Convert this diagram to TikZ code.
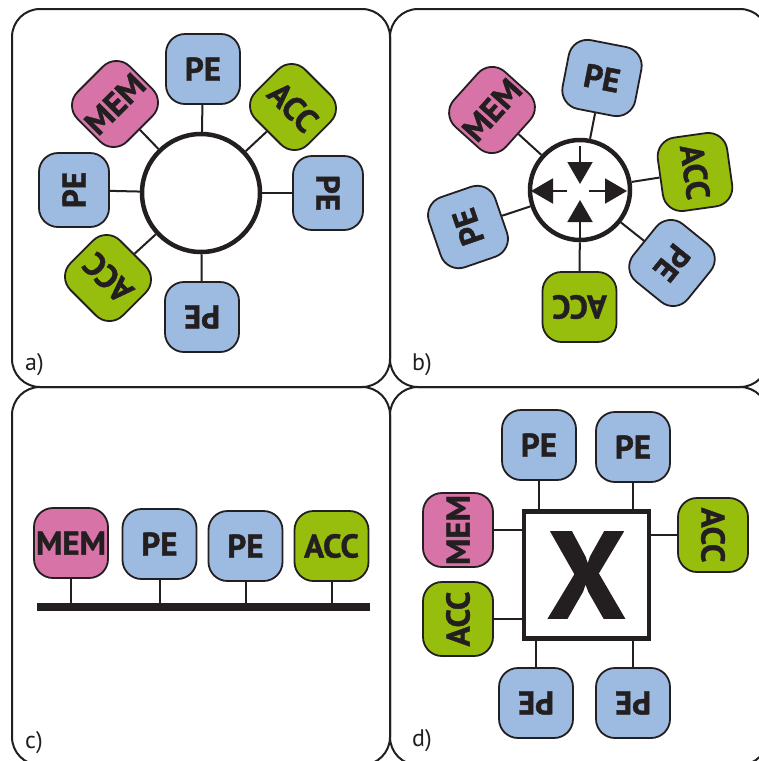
\documentclass[tikz,border=0pt]{standalone}
\usepackage{fontspec}
\setmainfont{PT Sans}[BoldFeatures={FakeBold=1.2}]
\usetikzlibrary{arrows.meta}
\definecolor{ink}{HTML}{231F20}
\definecolor{pecol}{HTML}{9DBBE0}
\definecolor{memcol}{HTML}{D873A8}
\definecolor{acccol}{HTML}{97BE0D}
\begin{document}
\begin{tikzpicture}[x=1pt,y=-1pt,
  blk/.style={draw=ink, line width=1.8pt, rounded corners=19pt, minimum width=74pt, minimum height=70pt,
    inner sep=0pt, text=ink, font=\fontsize{33}{33}\selectfont\bfseries},
  pebox/.style={blk, fill=pecol},
  membox/.style={blk, fill=memcol},
  accbox/.style={blk, fill=acccol},
  link/.style={draw=ink, line width=2pt},
  hub/.style={draw=ink, line width=4.5pt, circle, fill=white, inner sep=0pt},
  arr/.style={draw=ink, line width=2pt, -{Triangle[width=25pt,length=22pt]}, fill=ink},
  panel/.style={draw=ink, line width=2pt, rounded corners=28pt},
  lbl/.style={anchor=base west, text=ink, font=\fontsize{24}{24}\selectfont, inner sep=0pt}
]
\fill[white] (0,0) rectangle (759,761);
\clip (0,0) rectangle (759,761);
\useasboundingbox (0,0) rectangle (759,761);

% panels
\draw[panel] (12,9) rectangle (390,387);
\draw[panel] (390,9) rectangle (768,387);
\draw[panel] (12,387) rectangle (390,765);
\draw[panel] (390,387) rectangle (768,765);

% ---------- a) ring
\node[hub, minimum size=118pt] (ra) at (201,193) {};
\node[pebox] (a1) at (203,69) {PE};
\node[accbox, rotate=-45] (a2) at (293,107) {ACC};
\node[pebox, rotate=-90] (a3) at (328,193) {PE};
\node[pebox, rotate=180] (a4) at (202,317) {PE};
\node[accbox, rotate=135] (a5) at (108,278) {ACC};
\node[pebox, rotate=90] (a6) at (74,190) {PE};
\node[membox, rotate=45] (a7) at (115,104) {MEM};
\foreach \n in {a1,a2,a3,a4,a5,a6,a7} \draw[link] (ra) -- (\n);
\node[lbl] (la) at (25,370) {a)};

% ---------- b) router
\node[hub, minimum size=100pt] (rb) at (580,190) {};
\node[pebox, rotate=-11] (b1) at (602,78) {PE};
\node[accbox, rotate=-82] (b2) at (695,172) {ACC};
\node[pebox, rotate=-129] (b3) at (672,263) {PE};
\node[accbox, rotate=180] (b4) at (579.5,307) {ACC};
\node[pebox, rotate=109] (b5) at (468,227) {PE};
\node[membox, rotate=48] (b6) at (492,110) {MEM};
\foreach \n in {b1,b2,b3,b4,b5,b6} \draw[link] (rb) -- (\n);
\coordinate (bn1) at (580,146); \coordinate (bn2) at (580,184);
\coordinate (bs1) at (580,238); \coordinate (bs2) at (580,200);
\coordinate (bw1) at (567,191); \coordinate (bw2) at (531,191);
\coordinate (be1) at (589,191); \coordinate (be2) at (627,191);
\draw[arr] (bn1) -- (bn2);
\draw[arr] (bs1) -- (bs2);
\draw[arr] (bw1) -- (bw2);
\draw[arr] (be1) -- (be2);
\node[lbl] (lb) at (412,370) {b)};

% ---------- c) bus
\coordinate (busL) at (37,607);
\coordinate (busR) at (370,607);
\draw[ink, line width=8pt] (busL) -- (busR);
\node[membox] (c1) at (71,543) {MEM};
\node[pebox] (c2) at (159.5,544) {PE};
\node[pebox] (c3) at (245.5,546) {PE};
\node[accbox] (c4) at (331.5,546) {ACC};
\foreach \n in {c1,c2,c3,c4} \draw[link] (\n) -- (\n |- busL);
\node[lbl] (lc) at (25,748) {c)};

% ---------- d) crossbar
\node[draw=ink, line width=4.5pt, fill=white, minimum width=125pt, minimum height=127pt, inner sep=0pt,
  text=ink, font=\fontsize{123}{123}\selectfont\bfseries] (xb) at (586.5,575) {X};
\node[pebox] (d1) at (539,445) {PE};
\node[pebox] (d2) at (633,447) {PE};
\node[membox, rotate=90] (d3) at (458,530) {MEM};
\node[accbox, rotate=90] (d4) at (458,619) {ACC};
\node[accbox, rotate=-90] (d5) at (713,535) {ACC};
\node[pebox, rotate=180] (d6) at (536,703) {PE};
\node[pebox, rotate=180] (d7) at (633,703) {PE};
\draw[link] (d1) -- (d1 |- xb.north);
\draw[link] (d2) -- (d2 |- xb.north);
\draw[link] (d3) -- (d3 -| xb.west);
\draw[link] (d4) -- (d4 -| xb.west);
\draw[link] (d5) -- (d5 -| xb.east);
\draw[link] (d6) -- (d6 |- xb.south);
\draw[link] (d7) -- (d7 |- xb.south);
\node[lbl] (ld) at (412,746) {d)};
\end{tikzpicture}
\end{document}
